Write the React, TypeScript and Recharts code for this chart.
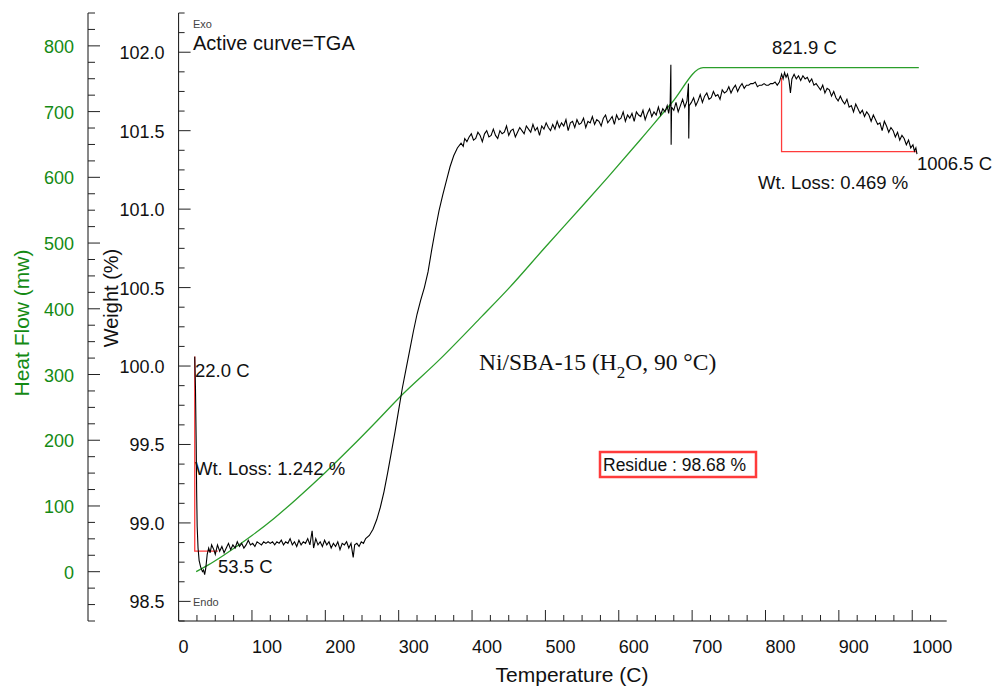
import React from 'react';
import { ComposedChart, Line, XAxis, YAxis } from 'recharts';

// TGA weight curve (temperature C, weight %)
const tgaTemp = [
  22, 23, 24, 24.6, 25.3, 26.5, 28, 30, 32.5, 34, 35.5, 37, 39, 41, 43, 45, 48, 50, 53, 56, 59, 62, 65, 68, 71, 74, 77, 80,
  83, 86, 89, 92, 95, 98, 101, 104, 107, 110, 113, 116, 119, 122, 125, 128, 131, 134, 137, 140, 143, 146, 149, 152, 155,
  158, 161, 164, 167, 170, 173, 176, 179, 182, 184, 187, 190, 193, 196, 199, 202, 205, 208, 211, 214, 217, 220, 223, 226,
  229, 232, 235, 238, 240, 243, 246, 249, 252, 255, 260, 265, 270, 275, 280, 285, 290, 295, 300, 305, 310, 315, 320, 325,
  330, 335, 340, 345, 350, 355, 360, 365, 370, 375, 380, 385, 388, 390, 393, 396, 399, 402, 405,
  408, 411, 414, 417, 420, 423, 426, 429, 432, 435, 438, 441, 444, 447, 450, 453, 456, 459, 462, 465, 468, 471, 474, 477,
  480, 483, 486, 489, 492, 495, 498, 501, 504, 507, 510, 513, 516, 519, 522, 525, 528, 531, 534, 537, 540, 543, 546, 549,
  552, 555, 558, 561, 564, 567, 570, 573, 576, 579, 582, 585, 588, 591, 594, 597, 600, 603, 606, 609, 612, 615, 618, 621,
  624, 627, 630, 633, 636, 639, 642, 645, 648, 651, 654, 657, 660, 663, 666, 668, 670, 671, 671.4, 672, 675, 678, 681, 684,
  687, 690, 693, 695, 695.4, 696, 699, 702, 705, 708, 711, 714, 717, 720, 723, 726, 729, 732, 735, 738, 741, 744, 747, 750,
  753, 756, 759, 762, 765, 768, 771, 774, 777, 780, 783, 786, 789, 792, 795, 798, 801, 804, 807, 810, 813, 816, 819, 822,
  824, 826, 828, 830, 832, 834, 836, 839, 842, 845, 848, 851, 854, 857, 860, 863, 866, 869, 872, 875, 878, 881, 884, 887,
  890, 893, 896, 899, 902, 905, 908, 911, 914, 917, 920, 923, 926, 929, 932, 935, 938, 941, 944, 947, 950, 953, 956, 959,
  962, 965, 968, 971, 974, 977, 980, 983, 986, 989, 992, 995, 998, 1001, 1003, 1005, 1006.5,
];
const tgaWeight = [
  100.06, 99.86, 99.5, 99.2, 98.98, 98.84, 98.76, 98.72, 98.69, 98.7, 98.67, 98.71, 98.8, 98.84, 98.81, 98.86, 98.83, 98.8,
  98.86, 98.82, 98.85, 98.81, 98.84, 98.87, 98.83, 98.86, 98.84, 98.88, 98.85, 98.87, 98.84, 98.86, 98.89, 98.86, 98.87,
  98.85, 98.88, 98.87, 98.86, 98.88, 98.87, 98.88, 98.87, 98.88, 98.86, 98.88, 98.87, 98.89, 98.86, 98.88, 98.87, 98.9,
  98.86, 98.88, 98.85, 98.89, 98.86, 98.88, 98.87, 98.9, 98.86, 98.95, 98.84, 98.9, 98.86, 98.88, 98.85, 98.89, 98.86,
  98.88, 98.84, 98.87, 98.85, 98.88, 98.83, 98.87, 98.86, 98.88, 98.84, 98.87, 98.78, 98.86, 98.87, 98.85, 98.88, 98.87,
  98.9, 98.92, 98.96, 99.02, 99.1, 99.2, 99.32, 99.45, 99.58, 99.72, 99.86, 99.98, 100.1, 100.22, 100.33,
  100.42, 100.5, 100.6, 100.74, 100.87, 100.99, 101.09, 101.18, 101.27, 101.34, 101.39, 101.42,
  101.4, 101.45, 101.43, 101.46, 101.48, 101.44, 101.45, 101.49, 101.47, 101.43, 101.48, 101.5, 101.46, 101.47, 101.51,
  101.47, 101.45, 101.5, 101.48, 101.49, 101.53, 101.47, 101.5, 101.51, 101.46, 101.49, 101.52, 101.5, 101.48, 101.53,
  101.51, 101.49, 101.54, 101.5, 101.52, 101.47, 101.53, 101.51, 101.55, 101.52, 101.5, 101.54, 101.51, 101.56, 101.52,
  101.55, 101.53, 101.57, 101.5, 101.55, 101.56, 101.52, 101.57, 101.54, 101.55, 101.58, 101.52, 101.56, 101.55, 101.59,
  101.54, 101.57, 101.56, 101.53, 101.58, 101.6, 101.55, 101.57, 101.59, 101.54, 101.6, 101.57, 101.58, 101.62, 101.56,
  101.6, 101.58, 101.61, 101.56, 101.62, 101.6, 101.59, 101.63, 101.57, 101.61, 101.64, 101.59, 101.62, 101.6, 101.65,
  101.6, 101.64, 101.62, 101.66, 101.61, 101.67, 101.92, 101.41, 101.65, 101.63, 101.68, 101.62, 101.66, 101.7, 101.65,
  101.69, 101.8, 101.45, 101.66, 101.68, 101.71, 101.66, 101.69, 101.73, 101.68, 101.72, 101.74, 101.7, 101.71, 101.75,
  101.72, 101.73, 101.7, 101.76, 101.74, 101.75, 101.78, 101.74, 101.77, 101.79, 101.75, 101.78, 101.8, 101.77, 101.79,
  101.79, 101.8, 101.8, 101.81, 101.78, 101.79, 101.79, 101.8, 101.79, 101.79, 101.8, 101.8, 101.81, 101.79, 101.81,
  101.86, 101.83, 101.87, 101.84, 101.86, 101.82, 101.74, 101.83, 101.86, 101.83, 101.85, 101.82, 101.85, 101.83, 101.84,
  101.81, 101.83, 101.79, 101.8, 101.78, 101.76, 101.79, 101.74, 101.77, 101.76, 101.72, 101.75, 101.71, 101.69, 101.72,
  101.69, 101.67, 101.7, 101.65, 101.66, 101.62, 101.67, 101.64, 101.61, 101.63, 101.59, 101.62, 101.6, 101.56, 101.6,
  101.57, 101.54, 101.55, 101.5, 101.56, 101.53, 101.49, 101.52, 101.5, 101.46, 101.49, 101.44, 101.47, 101.45, 101.41,
  101.44, 101.39, 101.41, 101.37, 101.39, 101.35,
];

// heat flow signal (mw)
const heatTemp = [24, 40, 60, 80, 100, 130, 160, 200, 233, 270, 300, 356, 413, 450, 500, 550, 585, 630, 672, 715, 1009];
const heatFlow = [0, 10, 24, 39, 55, 81, 110, 151, 187, 229, 264, 323, 388, 431, 494, 556, 600, 658, 713, 767, 767];

// weight-loss step markers
const loss1Temp = [22, 22, 53.5];
const loss1Weight = [100.06, 98.82, 98.82];
const loss2Temp = [821.9, 821.9, 1006.5];
const loss2Weight = [101.835, 101.366, 101.366];

const xDomain = [0, 1047];
const weightDomain = [98.375, 102.25];
const heatDomain = [-75, 850];

const xTicks = Array.from({ length: 42 }, (_, i) => i * 25);
const weightTicks = Array.from({ length: 32 }, (_, i) => 98.375 + i * 0.125);
const heatTicks = Array.from({ length: 38 }, (_, i) => -75 + i * 25);

const tgaRows = tgaTemp.map((t, i) => ({ t, w: tgaWeight[i] }));
const heatRows = heatTemp.map((t, i) => ({ t, h: heatFlow[i] }));
const loss1Rows = loss1Temp.map((t, i) => ({ t, w: loss1Weight[i] }));
const loss2Rows = loss2Temp.map((t, i) => ({ t, w: loss2Weight[i] }));

const FONT = '"Liberation Sans", Arial, sans-serif';
const GREEN_TEXT = '#148a14';
const GREEN_LINE = '#2b9e2b';
const RED = '#ff3b3b';

const XTick = (props: any) => {
  const { x, y, payload } = props;
  const major = payload.value % 100 === 0;
  return (
    <g>
      <line x1={x} x2={x} y1={y} y2={y - (major ? 11 : 6)} stroke="#222" />
      {major && (
        <text x={x} y={y + 32} fontSize={18} fontFamily={FONT} fill="#111" textAnchor="start">
          {payload.value}
        </text>
      )}
    </g>
  );
};

const WeightTick = (props: any) => {
  const { x, y, payload } = props;
  const v = payload.value;
  const major = Math.abs(v * 2 - Math.round(v * 2)) < 1e-6;
  return (
    <g>
      <line x1={x} x2={x + (major ? 12 : 6)} y1={y} y2={y} stroke="#222" />
      {major && (
        <text x={x - 14} y={y + 7} fontSize={18} fontFamily={FONT} fill="#111" textAnchor="end">
          {v.toFixed(1)}
        </text>
      )}
    </g>
  );
};

const HeatTick = (props: any) => {
  const { x, y, payload } = props;
  const major = payload.value % 100 === 0 && payload.value >= 0 && payload.value <= 800;
  return (
    <g>
      <line x1={x} x2={x + (major ? 12 : 7)} y1={y} y2={y} stroke="#222" />
      {major && (
        <text x={x - 14} y={y + 7} fontSize={18} fontFamily={FONT} fill={GREEN_TEXT} textAnchor="end">
          {payload.value}
        </text>
      )}
    </g>
  );
};

export default function App() {
  return (
    <div style={{ position: 'absolute', left: 0, top: 0, width: 995, height: 689, background: '#fff' }}>
      <ComposedChart width={995} height={689} margin={{ top: 13, right: 48.3, bottom: 0, left: 0 }}>
        <XAxis
          xAxisId="t"
          type="number"
          dataKey="t"
          domain={xDomain}
          allowDataOverflow
          ticks={xTicks}
          interval={0}
          tick={XTick}
          tickSize={0}
          tickMargin={0}
          tickLine={false}
          height={68}
          axisLine={{ stroke: '#111' }}
        />
        <XAxis
          xAxisId="top"
          orientation="top"
          type="number"
          domain={xDomain}
          tick={false}
          tickLine={false}
          height={0}
          axisLine={{ stroke: '#666' }}
        />
        <YAxis
          yAxisId="b"
          type="number"
          domain={heatDomain}
          allowDataOverflow
          ticks={heatTicks}
          interval={0}
          tick={HeatTick}
          tickSize={0}
          tickMargin={0}
          tickLine={false}
          width={88}
          axisLine={{ stroke: '#111' }}
        />
        <YAxis
          yAxisId="a"
          type="number"
          domain={weightDomain}
          allowDataOverflow
          ticks={weightTicks}
          interval={0}
          tick={WeightTick}
          tickSize={0}
          tickMargin={0}
          tickLine={false}
          width={90.6}
          axisLine={{ stroke: '#111' }}
        />
        <YAxis
          yAxisId="r"
          orientation="right"
          type="number"
          domain={[0, 1]}
          tick={false}
          tickLine={false}
          width={0}
          axisLine={{ stroke: '#666' }}
        />
        <Line
          data={heatRows}
          xAxisId="t"
          yAxisId="b"
          dataKey="h"
          type="monotone"
          stroke={GREEN_LINE}
          strokeWidth={1.3}
          dot={false}
          isAnimationActive={false}
        />
        <Line
          data={loss1Rows}
          xAxisId="t"
          yAxisId="a"
          dataKey="w"
          type="linear"
          stroke={RED}
          strokeWidth={1.3}
          dot={false}
          isAnimationActive={false}
        />
        <Line
          data={loss2Rows}
          xAxisId="t"
          yAxisId="a"
          dataKey="w"
          type="linear"
          stroke={RED}
          strokeWidth={1.3}
          dot={false}
          isAnimationActive={false}
        />
        <Line
          data={tgaRows}
          xAxisId="t"
          yAxisId="a"
          dataKey="w"
          type="linear"
          stroke="#000"
          strokeWidth={1.1}
          dot={false}
          isAnimationActive={false}
        />
      </ComposedChart>
      <svg
        width={995}
        height={689}
        style={{ position: 'absolute', left: 0, top: 0, pointerEvents: 'none' }}
        fontFamily={FONT}
      >
        <text x={193} y={28} fontSize={11} fill="#444">Exo</text>
        <text x={193} y={50} fontSize={20} fill="#111">Active curve=TGA</text>
        <text x={193} y={606} fontSize={11} fill="#444">Endo</text>
        <text x={195} y={377} fontSize={18.5} fill="#111">22.0 C</text>
        <text x={195} y={475} fontSize={18.5} fill="#111">Wt. Loss: 1.242 %</text>
        <text x={218} y={573} fontSize={18.5} fill="#111">53.5 C</text>
        <text x={772} y={54} fontSize={18.5} fill="#111">821.9 C</text>
        <text x={917} y={170} fontSize={18.5} fill="#111">1006.5 C</text>
        <text x={758} y={189} fontSize={18.5} fill="#111">Wt. Loss: 0.469 %</text>
        <text x={479} y={370} fontSize={23.5} fill="#111" fontFamily='"Liberation Serif", "Times New Roman", serif'>
          Ni/SBA-15 (H
          <tspan fontSize={17} dy={8}>2</tspan>
          <tspan dy={-8}>O, 90 °C)</tspan>
        </text>
        <rect x={600} y={452} width={156} height={25} fill="none" stroke={RED} strokeWidth={2.5} />
        <text x={603} y={471} fontSize={17.5} fill="#111">Residue : 98.68 %</text>
        <text x={29} y={323} fontSize={21} fill={GREEN_TEXT} textAnchor="middle" transform="rotate(-90 29 323)">
          Heat Flow (mw)
        </text>
        <text x={118} y={298} fontSize={20} fill="#111" textAnchor="middle" transform="rotate(-90 118 298)">
          Weight (%)
        </text>
        <text x={572} y={682} fontSize={21} fill="#111" textAnchor="middle">Temperature (C)</text>
      </svg>
    </div>
  );
}
